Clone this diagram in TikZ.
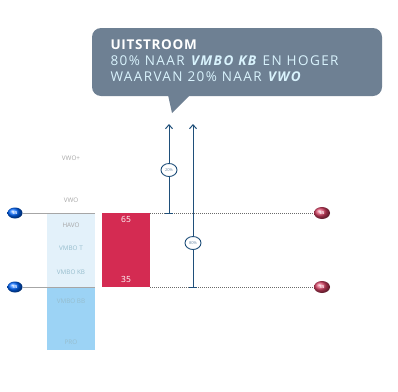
\documentclass[tikz,border=0pt]{standalone}
\usepackage{fontspec}
\setmainfont{Open Sans}
\usetikzlibrary{arrows.meta,shapes.geometric}
\definecolor{calloutbg}{HTML}{6E8093}
\definecolor{barred}{HTML}{D42B52}
\definecolor{arrowblue}{HTML}{1F4F7A}
\definecolor{lightcol}{HTML}{E3F1FA}
\definecolor{brightcol}{HTML}{9CD3F5}
\definecolor{dotgray}{HTML}{6A6A6A}
\begin{document}
\begin{tikzpicture}[x=1pt,y=-1pt,
  lvl/.style={font=\fontsize{6.3}{7}\selectfont, text=gray!70},
  lvlb/.style={font=\fontsize{6.3}{7}\selectfont, text=cyan!40!gray!70},
  bluedot/.style={ellipse, inner sep=0pt, minimum width=15pt, minimum height=11pt, ball color=blue!60!cyan, text=white, font=\fontsize{4}{5}\selectfont\bfseries},
  reddot/.style={ellipse, inner sep=0pt, minimum width=16pt, minimum height=12pt, ball color=barred!90, text=white, font=\fontsize{4}{5}\selectfont\bfseries},
  pct/.style={ellipse, draw=arrowblue, line width=0.9pt, fill=white, inner sep=0pt, minimum width=16pt, minimum height=13pt, font=\fontsize{4}{5}\selectfont, text=arrowblue!70},
  flow/.style={arrowblue, line width=1pt, -{Straight Barb[length=4pt,width=7pt]}},
  dots/.style={dotgray, line width=0.7pt, dash pattern=on 1pt off 1pt},
  thin/.style={gray!70, line width=0.4pt},
  ctext/.style={anchor=west, font=\fontsize{13.5}{15}\selectfont\addfontfeatures{LetterSpace=10.5}},
  ctitle/.style={anchor=west, font=\fontsize{13.5}{15}\selectfont\bfseries\addfontfeatures{LetterSpace=5}}
]
\useasboundingbox (0,0) rectangle (398,391);
% callout
\fill[calloutbg, rounded corners=9pt] (92,28) rectangle (382,96);
\fill[calloutbg] (168,95) -- (190,95) -- (172,113) -- cycle;
\node[ctitle, text=white] (t1) at (107,45) {UITSTROOM};
\node[ctext, text=white!85!cyan] (t2) at (107,61) {80\% NAAR \textbf{\textit{VMBO KB}} EN HOGER};
\node[ctext, text=white!85!cyan] (t3) at (107,77) {WAARVAN 20\% NAAR \textbf{\textit{VWO}}};
% column
\fill[lightcol] (47,214) rectangle (95,287);
\fill[brightcol] (47,287) rectangle (95,350);
\node[lvl] (l1) at (71,158) {VWO+};
\node[lvl] (l2) at (71,200) {VWO};
\node[lvl] (l3) at (71,225) {HAVO};
\node[lvlb] (l4) at (71,248) {VMBO T};
\node[lvlb] (l5) at (71,272) {VMBO KB};
\node[lvlb] (l6) at (71,301) {VMBO BB};
\node[lvlb] (l7) at (71,342) {PRO};
% red bar
\fill[barred] (102,213) rectangle (150,287);
\node[text=white, font=\fontsize{8.5}{9}\selectfont] (n65) at (126,219) {65};
\node[text=white, font=\fontsize{8.5}{9}\selectfont] (n35) at (126,279) {35};
% dots
\node[bluedot] (b1) at (15,213) {65};
\node[bluedot] (b2) at (15,287) {35};
\node[reddot] (r1) at (322,213) {65};
\node[reddot] (r2) at (322,287) {35};
\coordinate (c1l) at (95,213);
\coordinate (c2l) at (95,287);
\coordinate (c1r) at (150,213);
\coordinate (c2r) at (150,287);
\draw[thin] (b1) -- (c1l);
\draw[thin] (b2) -- (c2l);
\draw[dots] (c1r) -- (r1);
\draw[dots] (c2r) -- (r2);
% arrows
\coordinate (a1s) at (169,213);
\coordinate (a1e) at (169,124);
\coordinate (a2s) at (193,287);
\coordinate (a2e) at (193,124);
\draw[flow] (a1s) -- (a1e);
\draw[flow] (a2s) -- (a2e);
\draw[arrowblue, line width=1pt] ([xshift=-4pt]a1s) -- ([xshift=4pt]a1s);
\draw[arrowblue, line width=1pt] ([xshift=-4pt]a2s) -- ([xshift=4pt]a2s);
\node[pct] (p1) at (169,170) {20\%};
\node[pct] (p2) at (193,243) {80\%};
\end{tikzpicture}
\end{document}
